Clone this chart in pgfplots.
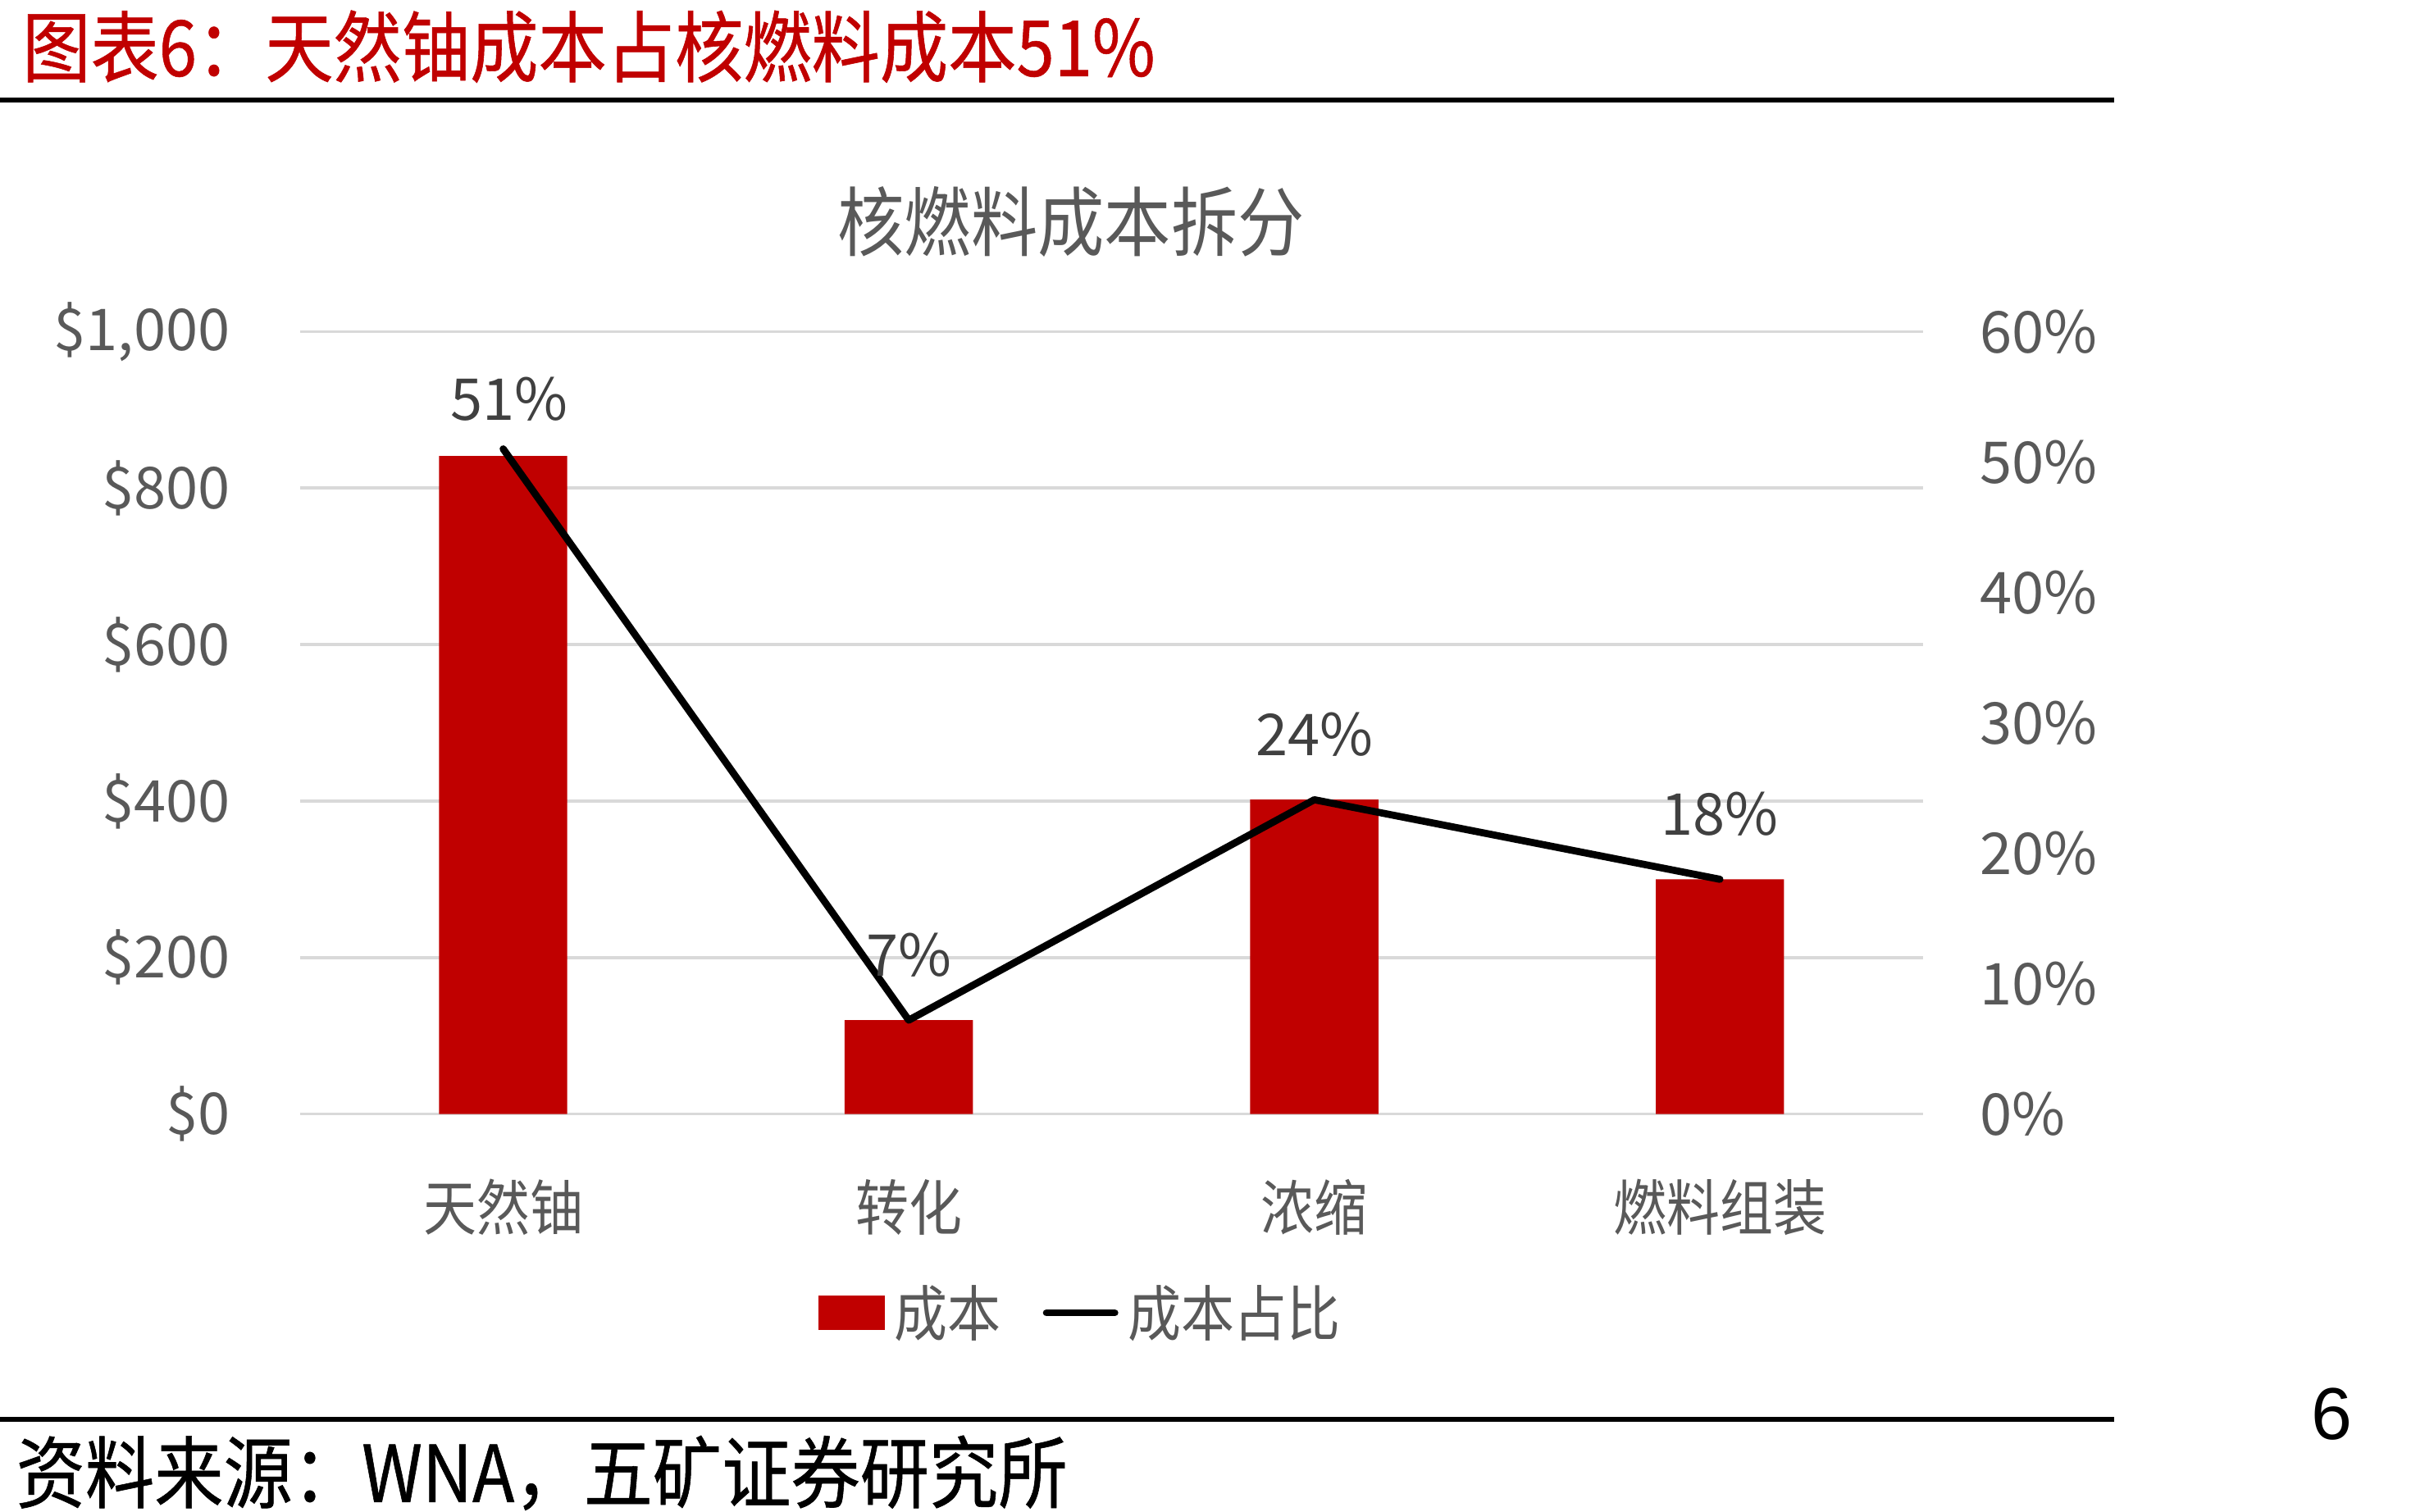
\documentclass[border=0pt]{standalone}
\usepackage{fontspec}
\usepackage{pgfplots}
\pgfplotsset{compat=1.18}
\usepackage{pgfplotstable}
\setmainfont{Noto Sans CJK SC}
\newfontfamily\cjk[FakeStretch=0.88]{Noto Sans CJK SC}
\newfontfamily\cjkh[FakeStretch=0.88, FakeBold=0.6]{Noto Sans CJK SC}
\newfontfamily\arialf{Liberation Sans}
\definecolor{barred}{HTML}{C00000}
\definecolor{axisgray}{HTML}{595959}
\definecolor{labgray}{HTML}{404040}
\definecolor{gridgray}{HTML}{D9D9D9}

\pgfplotstableread{
x cost
0 841
1 120
2 402
3 300
}\costdata

\pgfplotstableread{
x pct lab
0 51.0 51
1 7.2 7
2 24.1 24
3 18.0 18
}\pctdata

\begin{document}
\begin{tikzpicture}
\useasboundingbox (0,0) rectangle (784pt,487pt);
% header
\node[anchor=west, inner sep=0pt, text=barred, font=\cjkh\fontsize{25}{30}\selectfont] at (7pt,472pt) {图表6：天然铀成本占核燃料成本51\%};
\draw[line width=1.5pt, black] (0pt,454.75pt) -- (681pt,454.75pt);
% chart title
\node[inner sep=0pt, text=axisgray, font=\cjk\fontsize{24.4}{29}\selectfont] at (345pt,415.5pt) {核燃料成本拆分};

\begin{axis}[
  at={(96.75pt,128.1pt)}, anchor=south west,
  width=522.55pt, height=252.1pt, scale only axis,
  xmin=-0.5, xmax=3.5, ymin=0, ymax=1000,
  axis line style={draw=none},
  tick style={draw=none},
  ymajorgrids, grid style={color=gridgray, line width=0.9pt},
  ytick={0,200,400,600,800,1000},
  yticklabels={\$0,\$200,\$400,\$600,\$800,{\$1,000}},
  yticklabel style={anchor=east, inner sep=0pt, xshift=-22.5pt, font=\fontsize{18.6}{22}\selectfont, text=axisgray},
  xtick={0,1,2,3},
  xticklabels={天然铀,转化,浓缩,燃料组装},
  xticklabel style={anchor=center, inner sep=0pt, yshift=-30pt, font=\cjk\fontsize{19.5}{23}\selectfont, text=axisgray},
  clip=false,
]
\addplot[ybar, bar width=41.3pt, fill=barred, draw=none] table[x=x, y=cost] {\costdata};
\end{axis}

\begin{axis}[
  at={(96.75pt,128.1pt)}, anchor=south west,
  width=522.55pt, height=252.1pt, scale only axis,
  xmin=-0.5, xmax=3.5, ymin=0, ymax=60,
  axis x line=none,
  axis y line*=right,
  y axis line style={draw=none},
  ytick style={draw=none},
  ytick={0,10,20,30,40,50,60},
  yticklabels={0\%,10\%,20\%,30\%,40\%,50\%,60\%},
  yticklabel style={anchor=west, inner sep=0pt, xshift=18.3pt, font=\fontsize{18.6}{22}\selectfont, text=axisgray},
  clip=false,
  legend columns=2,
  legend cell align=left,
  legend style={at={(0.4804,-0.254)}, anchor=center, draw=none, fill=none,
    inner sep=0pt, outer sep=0pt,
    nodes={inner sep=0pt},
    font=\cjk\fontsize{19.5}{23}\selectfont, text=axisgray,
    /tikz/every odd column/.append style={column sep=3pt},
    /tikz/every even column/.append style={column sep=13.5pt}},
]
\addlegendimage{legend image code/.code={\fill[barred] (0pt,-5.25pt) rectangle (21pt,5.25pt);}}
\addlegendentry{成本}
\addplot[black, line width=2.3pt, line join=round, line cap=round, mark=none,
  legend image code/.code={\draw[black, line width=2.3pt, line cap=round] (0pt,0pt) -- (22pt,0pt);},
] table[x=x, y=pct] {\pctdata};
\addlegendentry{成本占比}
% data labels
\addplot[draw=none, mark=none, forget plot,
  point meta=explicit symbolic,
  nodes near coords={\pgfplotspointmeta\%},
  every node near coord/.append style={anchor=center, inner sep=0pt, yshift=16pt, xshift=2pt, font=\fontsize{18.6}{22}\selectfont, text=labgray},
] table[x=x, y=pct, meta=lab, restrict expr to domain={\coordindex}{0:0}] {\pctdata};
\addplot[draw=none, mark=none, forget plot,
  point meta=explicit symbolic,
  nodes near coords={\pgfplotspointmeta\%},
  every node near coord/.append style={anchor=center, inner sep=0pt, yshift=21pt, font=\fontsize{18.6}{22}\selectfont, text=labgray},
] table[x=x, y=pct, meta=lab, restrict expr to domain={\coordindex}{1:3}] {\pctdata};
\end{axis}

% footer
\draw[line width=1.5pt, black] (0pt,29.75pt) -- (681pt,29.75pt);
\node[inner sep=0pt, font=\arialf\fontsize{23.7}{28}\selectfont] at (751pt,31.5pt) {6};
\node[anchor=west, inner sep=0pt, font=\cjkh\fontsize{25.3}{30}\selectfont] at (5pt,12.5pt) {资料来源：WNA，五矿证券研究所};
\end{tikzpicture}
\end{document}
